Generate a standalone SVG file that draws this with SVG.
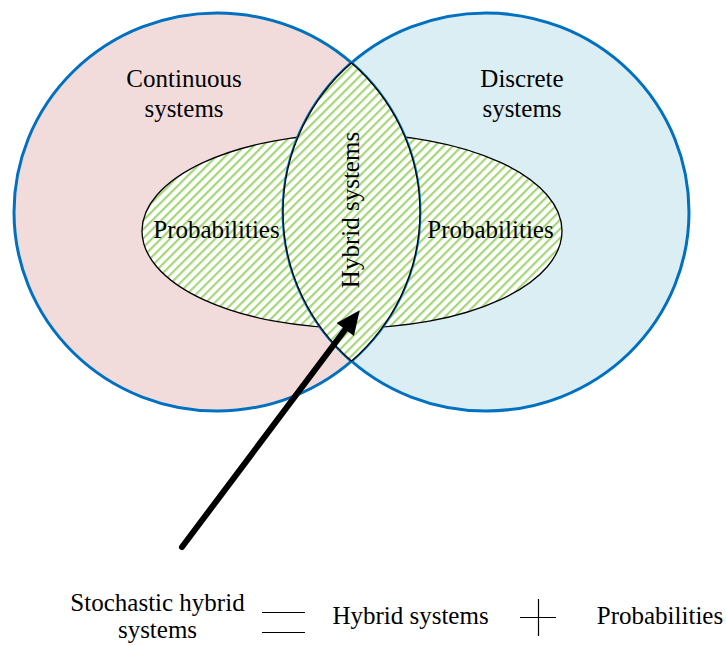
<svg xmlns="http://www.w3.org/2000/svg" width="726" height="646" viewBox="0 0 726 646">
  <defs>
    <!-- light green upward-diagonal hatch -->
    <pattern id="hatch" patternUnits="userSpaceOnUse" width="6.4" height="6.4" patternTransform="rotate(45)">
      <rect width="6.4" height="6.4" fill="#ffffff"/>
      <rect width="2.2" height="6.4" fill="#a6d67a"/>
    </pattern>
    <marker id="head" viewBox="0 0 4 3.6" refX="0.2" refY="1.8" markerWidth="4" markerHeight="3.6" orient="auto" overflow="visible">
      <path d="M0,0 L4,1.8 L0,3.6 Z" fill="#000"/>
    </marker>
    <style>
      .lbl { font-family: "Liberation Serif", "Times New Roman", serif; font-size: 25px; fill: #000; text-anchor: middle; }
      .set { stroke: #0070c0; stroke-width: 3; }
      .hatched { fill: url(#hatch); stroke: #000; stroke-width: 1.3; }
      .rule { stroke: #000; stroke-width: 1.2; fill: none; }
    </style>
  </defs>

  <g id="continuous-systems">
    <ellipse class="set" cx="217" cy="212" rx="203" ry="199" fill="#f2dcdb"/>
    <text class="lbl" x="184" y="87">Continuous</text>
    <text class="lbl" x="184" y="117">systems</text>
  </g>

  <g id="discrete-systems">
    <ellipse class="set" cx="486" cy="212" rx="203" ry="199" fill="#dbeef3"/>
    <text class="lbl" x="522" y="87">Discrete</text>
    <text class="lbl" x="522" y="117">systems</text>
  </g>

  <g id="probabilities">
    <ellipse class="hatched" cx="352" cy="231" rx="210" ry="97"/>
    <text class="lbl" x="216.5" y="238">Probabilities</text>
    <text class="lbl" x="490.5" y="238">Probabilities</text>
  </g>

  <g id="hybrid-systems">
    <!-- circle arcs bounding the overlap, redrawn above the ellipse -->
    <path class="set" fill="none" d="M351.5,63 A203,199 0 0,1 351.5,361 A203,199 0 0,1 351.5,63 Z"/>
    <path class="hatched" d="M351.5,63 A203,199 0 0,1 351.5,361 A203,199 0 0,1 351.5,63 Z"/>
    <text class="lbl" transform="translate(359,210) rotate(-90)">Hybrid systems</text>
  </g>

  <g id="connectors">
    <line x1="182" y1="547" x2="346" y2="328.5" stroke="#000" stroke-width="6" stroke-linecap="round" marker-end="url(#head)"/>
  </g>

  <g id="legend">
    <text class="lbl" x="157.5" y="611">Stochastic hybrid</text>
    <text class="lbl" x="157.5" y="638">systems</text>
    <line class="rule" x1="262" y1="612.5" x2="305" y2="612.5"/>
    <line class="rule" x1="262" y1="632.5" x2="305" y2="632.5"/>
    <text class="lbl" x="410.5" y="624">Hybrid systems</text>
    <line class="rule" x1="520" y1="617.5" x2="556" y2="617.5"/>
    <line class="rule" x1="538.5" y1="599" x2="538.5" y2="636"/>
    <text class="lbl" x="660" y="624">Probabilities</text>
  </g>
</svg>
